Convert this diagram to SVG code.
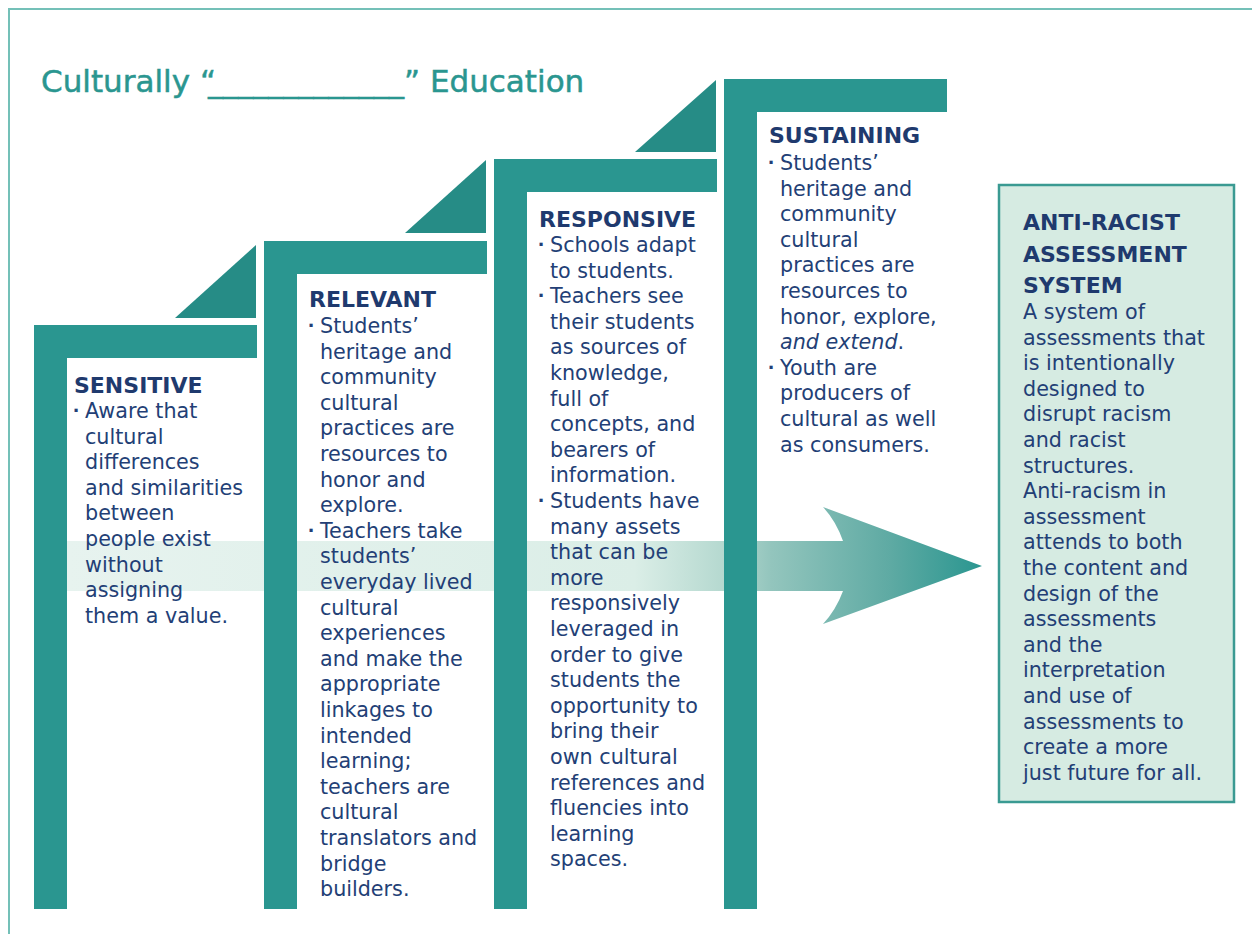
<svg xmlns="http://www.w3.org/2000/svg" width="1252" height="934" viewBox="0 0 1252 934">
<style>
.bar{fill:#2a9690}
.tri{fill:#268c86}
.h{font-family:"DejaVu Sans",Verdana,sans-serif;font-weight:bold;font-size:22px;fill:#1f3a6e}
.b{font-family:"DejaVu Sans",Verdana,sans-serif;font-size:20.7px;fill:#233f76}
.dot{font-family:"Liberation Sans",Arial,sans-serif;font-size:22px;font-weight:bold;fill:#233f76}
.title{font-family:"DejaVu Sans",Verdana,sans-serif;font-size:31px;fill:#2a9690;stroke:#2a9690;stroke-width:0.5}
</style>
<defs>
<linearGradient id="flow" gradientUnits="userSpaceOnUse" x1="67" y1="0" x2="982" y2="0">
<stop offset="0" stop-color="#e7f3ef"/>
<stop offset="0.62" stop-color="#dbeee7"/>
<stop offset="0.72" stop-color="#b4d8cf"/>
<stop offset="0.77" stop-color="#93c5bd"/>
<stop offset="0.9" stop-color="#5eaaa3"/>
<stop offset="1" stop-color="#2a9690"/>
</linearGradient>
</defs>
<rect width="1252" height="934" fill="#ffffff"/>
<path d="M9 934 V9 H1252" fill="none" stroke="#74c0b8" stroke-width="2"/>
<text class="title" y="92"><tspan x="41">Culturally “</tspan><tspan x="208" textLength="196" lengthAdjust="spacingAndGlyphs">_____________</tspan><tspan x="404">” Education</tspan></text>

<g id="connectors">
<path d="M67 541 L843 541 Q836 521 823 507 L982 566 L823 624 Q836 610 843 591 L67 591 Z" fill="url(#flow)"/>
</g>

<g id="sensitive">
<polygon class="tri" points="256,245 256,318 175,318"/>
<path class="bar" d="M34 325 H257 V358 H67 V909 H34 Z"/>
<text class="h" x="74" y="393">SENSITIVE</text>
<text class="dot" x="73" y="418">·</text>
<text class="b" y="418"><tspan x="85">Aware that</tspan><tspan x="85" dy="25.6">cultural</tspan><tspan x="85" dy="25.6">differences</tspan><tspan x="85" dy="25.6">and similarities</tspan><tspan x="85" dy="25.6">between</tspan><tspan x="85" dy="25.6">people exist</tspan><tspan x="85" dy="25.6">without</tspan><tspan x="85" dy="25.6">assigning</tspan><tspan x="85" dy="25.6">them a value.</tspan></text>
</g>

<g id="relevant">
<polygon class="tri" points="486,160 486,233 405,233"/>
<path class="bar" d="M264 241 H487 V274 H297 V909 H264 Z"/>
<text class="h" x="309" y="307">RELEVANT</text>
<text class="dot" x="308" y="333">·</text>
<text class="dot" x="308" y="537.8">·</text>
<text class="b" y="333"><tspan x="320">Students’</tspan><tspan x="320" dy="25.6">heritage and</tspan><tspan x="320" dy="25.6">community</tspan><tspan x="320" dy="25.6">cultural</tspan><tspan x="320" dy="25.6">practices are</tspan><tspan x="320" dy="25.6">resources to</tspan><tspan x="320" dy="25.6">honor and</tspan><tspan x="320" dy="25.6">explore.</tspan><tspan x="320" dy="25.6">Teachers take</tspan><tspan x="320" dy="25.6">students’</tspan><tspan x="320" dy="25.6">everyday lived</tspan><tspan x="320" dy="25.6">cultural</tspan><tspan x="320" dy="25.6">experiences</tspan><tspan x="320" dy="25.6">and make the</tspan><tspan x="320" dy="25.6">appropriate</tspan><tspan x="320" dy="25.6">linkages to</tspan><tspan x="320" dy="25.6">intended</tspan><tspan x="320" dy="25.6">learning;</tspan><tspan x="320" dy="25.6">teachers are</tspan><tspan x="320" dy="25.6">cultural</tspan><tspan x="320" dy="25.6">translators and</tspan><tspan x="320" dy="25.6">bridge</tspan><tspan x="320" dy="25.6">builders.</tspan></text>
</g>

<g id="responsive">
<polygon class="tri" points="716,80 716,152 635,152"/>
<path class="bar" d="M494 159 H717 V192 H527 V909 H494 Z"/>
<text class="h" x="539" y="227">RESPONSIVE</text>
<text class="dot" x="538" y="252">·</text>
<text class="dot" x="538" y="303.2">·</text>
<text class="dot" x="538" y="508">·</text>
<text class="b" y="252"><tspan x="550">Schools adapt</tspan><tspan x="550" dy="25.6">to students.</tspan><tspan x="550" dy="25.6">Teachers see</tspan><tspan x="550" dy="25.6">their students</tspan><tspan x="550" dy="25.6">as sources of</tspan><tspan x="550" dy="25.6">knowledge,</tspan><tspan x="550" dy="25.6">full of</tspan><tspan x="550" dy="25.6">concepts, and</tspan><tspan x="550" dy="25.6">bearers of</tspan><tspan x="550" dy="25.6">information.</tspan><tspan x="550" dy="25.6">Students have</tspan><tspan x="550" dy="25.6">many assets</tspan><tspan x="550" dy="25.6">that can be</tspan><tspan x="550" dy="25.6">more</tspan><tspan x="550" dy="25.6">responsively</tspan><tspan x="550" dy="25.6">leveraged in</tspan><tspan x="550" dy="25.6">order to give</tspan><tspan x="550" dy="25.6">students the</tspan><tspan x="550" dy="25.6">opportunity to</tspan><tspan x="550" dy="25.6">bring their</tspan><tspan x="550" dy="25.6">own cultural</tspan><tspan x="550" dy="25.6">references and</tspan><tspan x="550" dy="25.6">fluencies into</tspan><tspan x="550" dy="25.6">learning</tspan><tspan x="550" dy="25.6">spaces.</tspan></text>
</g>

<g id="sustaining">
<path class="bar" d="M724 79 H947 V112 H757 V909 H724 Z"/>
<text class="h" x="769" y="143">SUSTAINING</text>
<text class="dot" x="768" y="170">·</text>
<text class="dot" x="768" y="374.8">·</text>
<text class="b" y="170"><tspan x="780">Students’</tspan><tspan x="780" dy="25.6">heritage and</tspan><tspan x="780" dy="25.6">community</tspan><tspan x="780" dy="25.6">cultural</tspan><tspan x="780" dy="25.6">practices are</tspan><tspan x="780" dy="25.6">resources to</tspan><tspan x="780" dy="25.6">honor, explore,</tspan><tspan x="780" dy="25.6" font-style="italic">and extend</tspan><tspan>.</tspan><tspan x="780" dy="25.6">Youth are</tspan><tspan x="780" dy="25.6">producers of</tspan><tspan x="780" dy="25.6">cultural as well</tspan><tspan x="780" dy="25.6">as consumers.</tspan></text>
</g>

<g id="anti-racist">
<rect x="999" y="185" width="235" height="617" fill="#d6ebe2" stroke="#3a9a92" stroke-width="2.5"/>
<text class="h" y="230"><tspan x="1023">ANTI-RACIST</tspan><tspan x="1023" dy="31.5">ASSESSMENT</tspan><tspan x="1023" dy="31.5">SYSTEM</tspan></text>
<text class="b" y="319"><tspan x="1023">A system of</tspan><tspan x="1023" dy="25.6">assessments that</tspan><tspan x="1023" dy="25.6">is intentionally</tspan><tspan x="1023" dy="25.6">designed to</tspan><tspan x="1023" dy="25.6">disrupt racism</tspan><tspan x="1023" dy="25.6">and racist</tspan><tspan x="1023" dy="25.6">structures.</tspan><tspan x="1023" dy="25.6">Anti-racism in</tspan><tspan x="1023" dy="25.6">assessment</tspan><tspan x="1023" dy="25.6">attends to both</tspan><tspan x="1023" dy="25.6">the content and</tspan><tspan x="1023" dy="25.6">design of the</tspan><tspan x="1023" dy="25.6">assessments</tspan><tspan x="1023" dy="25.6">and the</tspan><tspan x="1023" dy="25.6">interpretation</tspan><tspan x="1023" dy="25.6">and use of</tspan><tspan x="1023" dy="25.6">assessments to</tspan><tspan x="1023" dy="25.6">create a more</tspan><tspan x="1023" dy="25.6">just future for all.</tspan></text>
</g>
</svg>
